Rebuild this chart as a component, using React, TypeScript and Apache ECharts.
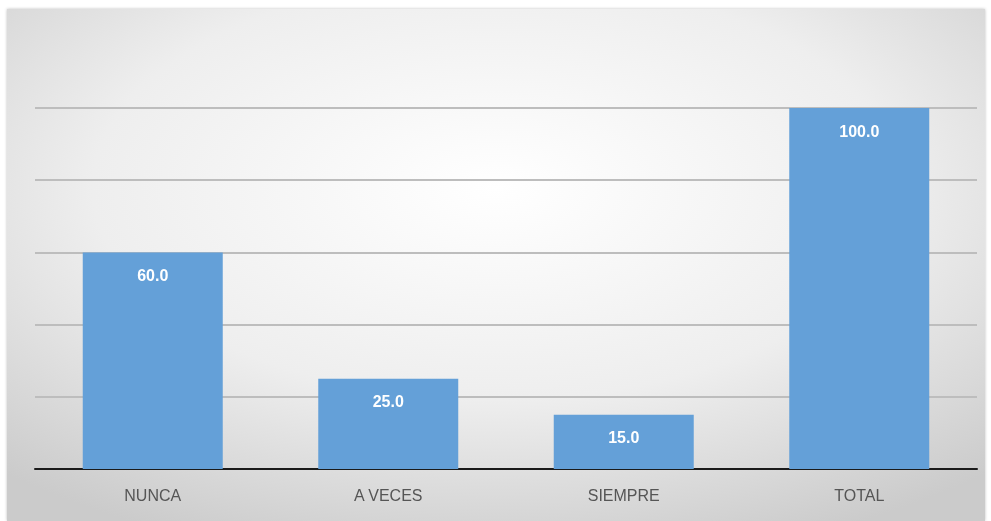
import React, { useEffect, useRef } from "react";
import * as echarts from "echarts";

const categories = ["NUNCA", "A VECES", "SIEMPRE", "TOTAL"];
const values = [60, 25, 15, 100];

export default function App() {
  const ref = useRef<HTMLDivElement>(null);
  useEffect(() => {
    if (!ref.current) return;
    const chart = echarts.init(ref.current, null, { renderer: "svg" });
    chart.setOption({
      animation: false,
      graphic: [
        {
          type: "rect",
          z: -10,
          silent: true,
          shape: { x: 7, y: 9, width: 978, height: 512 },
          style: {
            fill: new echarts.graphic.RadialGradient(0.5, 0.35, 0.75, [
              { offset: 0, color: "#ffffff" },
              { offset: 0.55, color: "#eeeeee" },
              { offset: 1, color: "#cbcbcb" },
            ]),
            shadowColor: "rgba(0,0,0,0.25)",
            shadowBlur: 3,
          },
        },
      ],
      grid: { left: 35, right: 14, top: 108, bottom: 52, containLabel: false },
      xAxis: {
        type: "category",
        data: categories,
        axisLine: { lineStyle: { color: "#1a1a1a", width: 2 } },
        axisTick: { show: false },
        axisLabel: {
          color: "#555555",
          fontSize: 16,
          fontFamily: "Liberation Sans, Arial, sans-serif",
          margin: 18,
        },
      },
      yAxis: {
        type: "value",
        min: 0,
        max: 100,
        interval: 20,
        axisLabel: { show: false },
        axisLine: { show: false },
        axisTick: { show: false },
        splitLine: { lineStyle: { color: "#bdbdbd", width: 2 } },
      },
      series: [
        {
          type: "bar",
          data: values,
          barWidth: 140,
          itemStyle: { color: "#64a0d8" },
          label: {
            show: true,
            position: "insideTop",
            distance: 15,
            color: "#ffffff",
            fontWeight: "bold",
            fontSize: 16,
            fontFamily: "Liberation Sans, Arial, sans-serif",
            formatter: (p: any) => Number(p.value).toFixed(1),
          },
        },
      ],
    });
    return () => chart.dispose();
  }, []);
  return (
    <div
      ref={ref}
      style={{ position: "fixed", left: 0, top: 0, width: 991, height: 521 }}
    />
  );
}
